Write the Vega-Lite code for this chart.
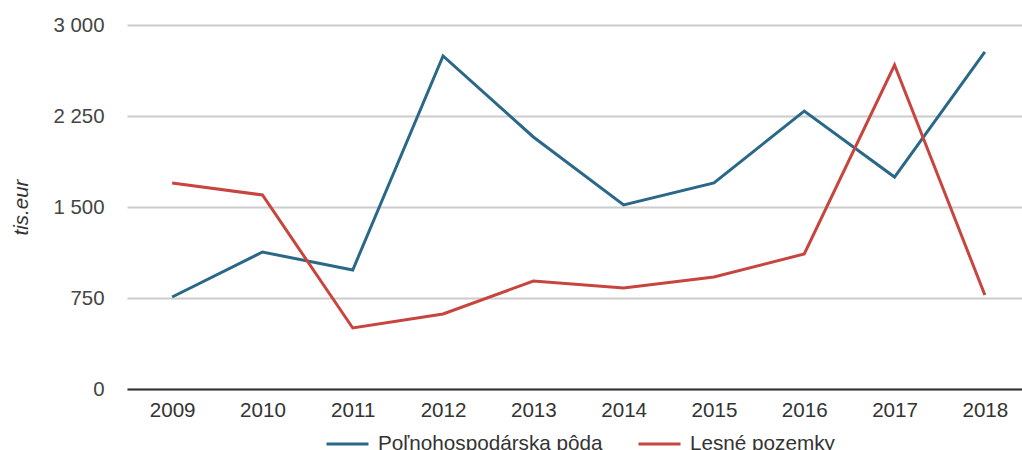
{
  "$schema": "https://vega.github.io/schema/vega-lite/v6.json",
  "autosize": "none",
  "padding": {"left": 127, "top": 25, "right": 0, "bottom": 61},
  "width": 903,
  "height": 364,
  "background": "white",
  "config": {
    "font": "Liberation Sans",
    "view": {"stroke": null}
  },
  "data": {
    "values": [
      {"rok": "2009", "typ": "Poľnohospodárska pôda", "hodnota": 758},
      {"rok": "2010", "typ": "Poľnohospodárska pôda", "hodnota": 1129},
      {"rok": "2011", "typ": "Poľnohospodárska pôda", "hodnota": 981},
      {"rok": "2012", "typ": "Poľnohospodárska pôda", "hodnota": 2745},
      {"rok": "2013", "typ": "Poľnohospodárska pôda", "hodnota": 2077},
      {"rok": "2014", "typ": "Poľnohospodárska pôda", "hodnota": 1517},
      {"rok": "2015", "typ": "Poľnohospodárska pôda", "hodnota": 1698},
      {"rok": "2016", "typ": "Poľnohospodárska pôda", "hodnota": 2291},
      {"rok": "2017", "typ": "Poľnohospodárska pôda", "hodnota": 1747},
      {"rok": "2018", "typ": "Poľnohospodárska pôda", "hodnota": 2778},
      {"rok": "2009", "typ": "Lesné pozemky", "hodnota": 1698},
      {"rok": "2010", "typ": "Lesné pozemky", "hodnota": 1599},
      {"rok": "2011", "typ": "Lesné pozemky", "hodnota": 503},
      {"rok": "2012", "typ": "Lesné pozemky", "hodnota": 618},
      {"rok": "2013", "typ": "Lesné pozemky", "hodnota": 890},
      {"rok": "2014", "typ": "Lesné pozemky", "hodnota": 832},
      {"rok": "2015", "typ": "Lesné pozemky", "hodnota": 923},
      {"rok": "2016", "typ": "Lesné pozemky", "hodnota": 1113},
      {"rok": "2017", "typ": "Lesné pozemky", "hodnota": 2670},
      {"rok": "2018", "typ": "Lesné pozemky", "hodnota": 775}
    ]
  },
  "mark": {"type": "line", "strokeWidth": 3},
  "encoding": {
    "x": {
      "field": "rok",
      "type": "ordinal",
      "scale": {"type": "point", "padding": 0.5},
      "axis": {
        "title": null,
        "labelAngle": 0,
        "labelFontSize": 20.6,
        "labelColor": "#333333",
        "labelPadding": 11,
        "ticks": false,
        "domainColor": "#333333",
        "domainWidth": 2,
        "grid": false
      }
    },
    "y": {
      "field": "hodnota",
      "type": "quantitative",
      "scale": {"domain": [0, 3000]},
      "axis": {
        "title": "tis.eur",
        "titleFontStyle": "italic",
        "titleFontWeight": "normal",
        "titleFontSize": 20.5,
        "titleColor": "#333333",
        "titlePadding": 21,
        "values": [0, 750, 1500, 2250, 3000],
        "format": ",d",
        "labelExpr": "replace(datum.label, ',', ' ')",
        "labelFontSize": 20.4,
        "labelColor": "#444444",
        "labelPadding": 23,
        "ticks": false,
        "domain": false,
        "gridColor": "#cccccc",
        "gridWidth": 2
      }
    },
    "color": {
      "field": "typ",
      "type": "nominal",
      "scale": {
        "domain": ["Poľnohospodárska pôda", "Lesné pozemky"],
        "range": ["#2a6888", "#c8443f"]
      },
      "legend": {
        "title": null,
        "orient": "none",
        "legendX": 198,
        "legendY": 396,
        "direction": "horizontal",
        "symbolType": "stroke",
        "symbolSize": 1764,
        "symbolStrokeWidth": 3,
        "labelFontSize": 20.7,
        "labelColor": "#333333",
        "labelLimit": 0,
        "labelOffset": 8,
        "columnPadding": 29,
        "encode": {"symbols": {"update": {"strokeWidth": {"value": 3}}}}
      }
    }
  }
}
